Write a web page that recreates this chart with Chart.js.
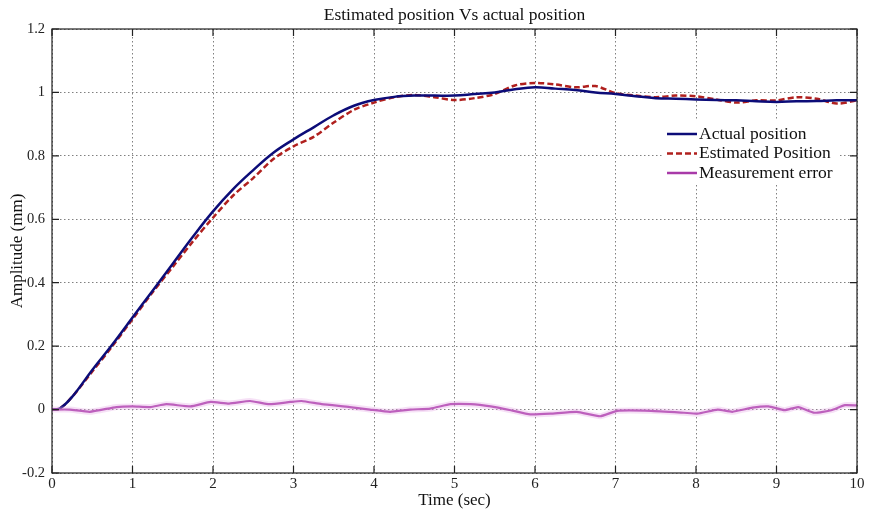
<!DOCTYPE html>
<html>
<head>
<meta charset="utf-8">
<script src="https://cdn.jsdelivr.net/npm/chart.js@4.4.1/dist/chart.umd.min.js"></script>
<style>
    html, body { margin: 0; padding: 0; background: #fff; }
    #wrap { width: 871px; height: 513px; position: relative; }
</style>
</head>
<body>
<div id="wrap"><canvas id="posChart"></canvas></div>
<script>
// Estimated position vs actual position

const posTime = [0, 0.1, 0.25, 0.5, 0.75, 1, 1.25, 1.5, 1.75, 2, 2.25, 2.5, 2.75, 3, 3.25, 3.5, 3.75, 4, 4.25, 4.5,
    4.75, 5, 5.25, 5.5, 5.75, 6, 6.25, 6.5, 6.75, 7, 7.25, 7.5, 7.75, 8, 8.25, 8.5, 8.75, 9, 9.25, 9.5, 9.75, 10];

const actualPos = [0, 0.004, 0.04, 0.125, 0.205, 0.29, 0.375, 0.46, 0.545, 0.625, 0.695, 0.755, 0.81, 0.852, 0.89, 0.928, 0.958, 0.976, 0.986, 0.99,
    0.99, 0.99, 0.995, 1.0, 1.01, 1.016, 1.012, 1.008, 1.0, 0.995, 0.988, 0.982, 0.98, 0.978, 0.976, 0.975, 0.972, 0.97, 0.972, 0.973, 0.975, 0.975];

const estimatedPos = [0, 0.004, 0.04, 0.12, 0.2, 0.285, 0.37, 0.45, 0.53, 0.605, 0.675, 0.73, 0.79, 0.83, 0.86, 0.905, 0.945, 0.968, 0.985, 0.992,
    0.985, 0.976, 0.982, 0.995, 1.022, 1.03, 1.025, 1.016, 1.02, 0.998, 0.99, 0.985, 0.99, 0.988, 0.978, 0.968, 0.975, 0.975, 0.985, 0.98, 0.965, 0.975];

const errTime = [0, 0.22, 0.47, 0.8, 1.0, 1.22, 1.42, 1.72, 1.97, 2.2, 2.46, 2.7, 2.96, 3.1, 3.35, 3.7, 3.95, 4.2, 4.45, 4.7,
    4.95, 5.2, 5.45, 5.7, 5.94, 6.19, 6.52, 6.81, 7.02, 7.44, 7.85, 8.02, 8.27, 8.45, 8.7, 8.9, 9.1, 9.27, 9.47, 9.68, 9.85, 10];

const errValue = [0, 0, -0.007, 0.008, 0.01, 0.008, 0.017, 0.01, 0.024, 0.019, 0.027, 0.017, 0.024, 0.027, 0.017, 0.008, 0, -0.007, 0, 0.003,
    0.017, 0.017, 0.01, -0.002, -0.015, -0.013, -0.007, -0.021, -0.004, -0.004, -0.01, -0.013, 0, -0.007, 0.006, 0.01, -0.002, 0.008, -0.01, -0.002, 0.014, 0.013];

const xTicks = [0, 1, 2, 3, 4, 5, 6, 7, 8, 9, 10];
const yTicks = [-0.2, 0, 0.2, 0.4, 0.6, 0.8, 1, 1.2];

const legendItems = [
    { label: 'Actual position', color: '#0c0c78', dash: [] },
    { label: 'Estimated Position', color: '#b0201e', dash: [6, 3] },
    { label: 'Measurement error', color: '#a83aa8', dash: [] }
];

const serif = '"Liberation Serif", "Times New Roman", serif';

function toPoints(xs, ys) {
    return xs.map((x, i) => ({ x: x, y: ys[i] }));
}

// frame, inward ticks, title and legend
const matlabFrame = {
    id: 'matlabFrame',
    afterDraw(chart) {
        const ctx = chart.ctx;
        const area = chart.chartArea;
        const xs = chart.scales.x;
        const ys = chart.scales.y;

        ctx.save();
        ctx.strokeStyle = '#222';
        ctx.lineWidth = 1.2;
        ctx.strokeRect(area.left, area.top, area.right - area.left, area.bottom - area.top);

        ctx.beginPath();
        xTicks.forEach(v => {
            const px = xs.getPixelForValue(v);
            ctx.moveTo(px, area.bottom); ctx.lineTo(px, area.bottom - 7);
            ctx.moveTo(px, area.top); ctx.lineTo(px, area.top + 7);
        });
        yTicks.forEach(v => {
            const py = ys.getPixelForValue(v);
            ctx.moveTo(area.left, py); ctx.lineTo(area.left + 7, py);
            ctx.moveTo(area.right, py); ctx.lineTo(area.right - 7, py);
        });
        ctx.stroke();

        // title
        ctx.fillStyle = '#111';
        ctx.font = '17.5px ' + serif;
        ctx.textAlign = 'center';
        ctx.textBaseline = 'middle';
        ctx.fillText('Estimated position Vs actual position', (area.left + area.right) / 2, 15);

        // legend
        ctx.fillStyle = '#fff';
        ctx.fillRect(664, 121, 174, 62);
        ctx.font = '17.5px ' + serif;
        ctx.textAlign = 'left';
        legendItems.forEach((item, i) => {
            const y = 134 + i * 19.5;
            ctx.strokeStyle = item.color;
            ctx.lineWidth = 2.5;
            ctx.setLineDash(item.dash);
            ctx.beginPath();
            ctx.moveTo(667, y); ctx.lineTo(697, y);
            ctx.stroke();
            ctx.setLineDash([]);
            ctx.fillStyle = '#111';
            ctx.fillText(item.label, 699, y);
        });
        ctx.restore();
    }
};

function initChart() {
    const ctx = document.getElementById('posChart').getContext('2d');

    const gridOpts = {
        color: '#808080',
        lineWidth: 1,
        drawTicks: false
    };

    new Chart(ctx, {
        type: 'line',
        data: {
            datasets: [
                {
                    label: 'Measurement error glow',
                    data: toPoints(errTime, errValue),
                    borderColor: 'rgba(230, 170, 230, 0.35)',
                    borderWidth: 6,
                    pointRadius: 0,
                    tension: 0.15
                },
                {
                    label: 'Measurement error',
                    data: toPoints(errTime, errValue),
                    borderColor: '#a83aa8',
                    borderWidth: 2.2,
                    pointRadius: 0,
                    tension: 0.15
                },
                {
                    label: 'Actual position',
                    data: toPoints(posTime, actualPos),
                    borderColor: '#0c0c78',
                    borderWidth: 2.5,
                    pointRadius: 0,
                    tension: 0.4
                },
                {
                    label: 'Estimated Position',
                    data: toPoints(posTime, estimatedPos),
                    borderColor: '#b0201e',
                    borderWidth: 2.5,
                    borderDash: [6, 3],
                    pointRadius: 0,
                    tension: 0.3
                }
            ]
        },
        options: {
            responsive: false,
            animation: false,
            layout: { padding: { top: 29, right: 14, left: 0, bottom: 0 } },
            plugins: {
                legend: { display: false },
                tooltip: { enabled: false }
            },
            scales: {
                x: {
                    type: 'linear',
                    min: 0,
                    max: 10,
                    afterBuildTicks: axis => { axis.ticks = xTicks.map(v => ({ value: v })); },
                    afterFit: axis => { axis.height = 40; },
                    grid: gridOpts,
                    border: { display: false, dash: [1.5, 2.5] },
                    ticks: {
                        color: '#222',
                        padding: 2,
                        maxRotation: 0,
                        font: { family: serif, size: 15 }
                    },
                    title: {
                        display: true,
                        text: 'Time (sec)',
                        color: '#111',
                        padding: { top: 0, bottom: 2 },
                        font: { family: serif, size: 17 }
                    }
                },
                y: {
                    min: -0.2,
                    max: 1.2,
                    afterBuildTicks: axis => { axis.ticks = yTicks.map(v => ({ value: v })); },
                    afterFit: axis => { axis.width = 52; },
                    grid: gridOpts,
                    border: { display: false, dash: [1.5, 2.5] },
                    ticks: {
                        color: '#222',
                        padding: 7,
                        font: { family: serif, size: 14.5 },
                        callback: v => String(Math.round(v * 10) / 10)
                    },
                    title: {
                        display: true,
                        text: 'Amplitude (mm)',
                        color: '#111',
                        padding: { top: 7, bottom: 0 },
                        font: { family: serif, size: 17 }
                    }
                }
            }
        },
        plugins: [matlabFrame]
    });
}

document.getElementById('posChart').width = 871;
document.getElementById('posChart').height = 513;
initChart();
</script>
</body>
</html>
